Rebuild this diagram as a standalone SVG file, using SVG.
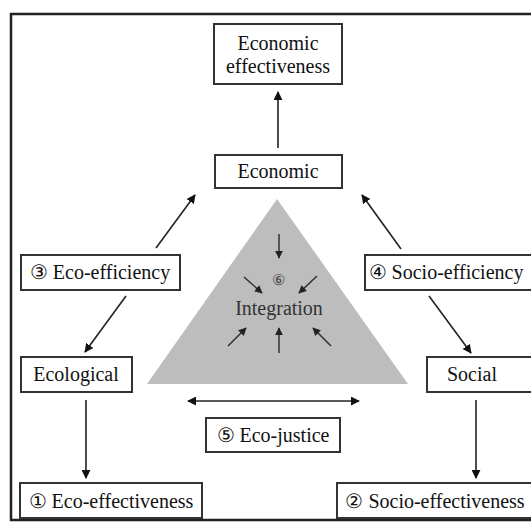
<svg xmlns="http://www.w3.org/2000/svg" width="531" height="523" viewBox="0 0 531 523">
<defs>
<marker id="ah" viewBox="0 0 10 10" refX="9" refY="5" markerWidth="9" markerHeight="9" markerUnits="userSpaceOnUse" orient="auto-start-reverse">
<path d="M0,0 L10,5 L0,10 z" fill="#111"/>
</marker>
<marker id="ahs" viewBox="0 0 10 10" refX="9" refY="5" markerWidth="8" markerHeight="8" markerUnits="userSpaceOnUse" orient="auto">
<path d="M0,0 L10,5 L0,10 z" fill="#222"/>
</marker>
</defs>
<style>
.box{fill:#fff;stroke:#333;stroke-width:2}
.c{stroke:#222;stroke-width:1.6;fill:none;marker-end:url(#ah)}
.ci{stroke:#2a2a2a;stroke-width:1.4;fill:none;marker-end:url(#ahs)}
</style>
<rect width="531" height="523" fill="#fff"/>
<rect x="11" y="14" width="540" height="506" fill="none" stroke="#222" stroke-width="2.5"/>

<g id="integration">
<polygon points="277,199 147,384 408,384" fill="#bdbdbd"/>
<text x="278" y="285" font-family="Liberation Serif" font-size="15" fill="#444" text-anchor="middle">⑥</text>
<text x="279" y="315" font-family="Liberation Serif" font-size="20" fill="#333" text-anchor="middle">Integration</text>
<g id="integration-arrows">
<line class="ci" x1="279" y1="234" x2="279" y2="258"/>
<line class="ci" x1="244" y1="277" x2="262" y2="293"/>
<line class="ci" x1="317" y1="276" x2="299" y2="293"/>
<line class="ci" x1="228" y1="346" x2="246" y2="328"/>
<line class="ci" x1="279" y1="353" x2="279" y2="328"/>
<line class="ci" x1="331" y1="346" x2="313" y2="328"/>
</g>
</g>

<g id="connectors">
<line class="c" x1="278" y1="148" x2="278" y2="92"/>
<line class="c" x1="156" y1="248" x2="195" y2="195"/>
<line class="c" x1="401" y1="249" x2="362" y2="195"/>
<line class="c" x1="126" y1="296" x2="85" y2="352"/>
<line class="c" x1="429" y1="296" x2="471" y2="353"/>
<line class="c" x1="188" y1="401" x2="359" y2="401" style="marker-start:url(#ah)"/>
<line class="c" x1="86" y1="400" x2="86" y2="478"/>
<line class="c" x1="476" y1="400" x2="476" y2="478"/>
</g>

<g id="economic-effectiveness">
<rect class="box" x="214" y="24" width="128" height="60"/>
<text x="278" y="50" font-family="Liberation Serif" font-size="20" fill="#111" text-anchor="middle">Economic</text>
<text x="278" y="73" font-family="Liberation Serif" font-size="20" fill="#111" text-anchor="middle">effectiveness</text>
</g>
<g id="economic">
<rect class="box" x="215" y="155" width="127" height="33"/>
<text x="278" y="178" font-family="Liberation Serif" font-size="20" fill="#111" text-anchor="middle">Economic</text>
</g>
<g id="eco-efficiency">
<rect class="box" x="21" y="255" width="159" height="35"/>
<text x="100" y="279" font-family="Liberation Serif" font-size="20" fill="#111" text-anchor="middle">③ Eco-efficiency</text>
</g>
<g id="socio-efficiency">
<rect class="box" x="365" y="255" width="180" height="35"/>
<text x="446" y="279" font-family="Liberation Serif" font-size="20" fill="#111" text-anchor="middle">④ Socio-efficiency</text>
</g>
<g id="ecological">
<rect class="box" x="21" y="357" width="111" height="35"/>
<text x="76" y="381" font-family="Liberation Serif" font-size="20" fill="#111" text-anchor="middle">Ecological</text>
</g>
<g id="social">
<rect class="box" x="427" y="357" width="120" height="35"/>
<text x="472" y="381" font-family="Liberation Serif" font-size="20" fill="#111" text-anchor="middle">Social</text>
</g>
<g id="eco-justice">
<rect class="box" x="206" y="418" width="134" height="34"/>
<text x="273" y="442" font-family="Liberation Serif" font-size="20" fill="#111" text-anchor="middle">⑤ Eco-justice</text>
</g>
<g id="eco-effectiveness">
<rect class="box" x="20" y="483" width="182" height="35"/>
<text x="111" y="508" font-family="Liberation Serif" font-size="20" fill="#111" text-anchor="middle">① Eco-effectiveness</text>
</g>
<g id="socio-effectiveness">
<rect class="box" x="337" y="483" width="210" height="35"/>
<text x="435" y="508" font-family="Liberation Serif" font-size="20" fill="#111" text-anchor="middle">② Socio-effectiveness</text>
</g>
</svg>
